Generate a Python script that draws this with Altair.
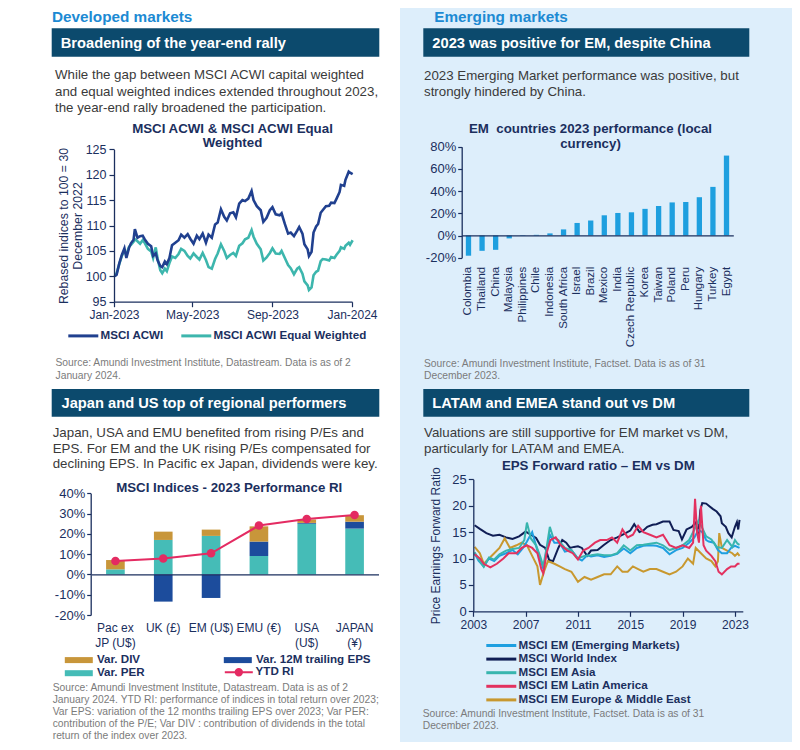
import altair as alt
import pandas as pd

# ------------------------------------------------------------------ data
# Chart 1 : MSCI ACWI vs MSCI ACWI Equal Weighted (rebased 100)
c1_dates = ["2023-01-02", "2023-01-05", "2023-01-09", "2023-01-13", "2023-01-17", "2023-01-20",
            "2023-01-24", "2023-01-27", "2023-01-31", "2023-02-02", "2023-02-06", "2023-02-10",
            "2023-02-14", "2023-02-17", "2023-02-22", "2023-02-27", "2023-03-02", "2023-03-06",
            "2023-03-09", "2023-03-13", "2023-03-16", "2023-03-20", "2023-03-23", "2023-03-27",
            "2023-03-31", "2023-04-05", "2023-04-10", "2023-04-14", "2023-04-19", "2023-04-24",
            "2023-04-28", "2023-05-03", "2023-05-08", "2023-05-12", "2023-05-17", "2023-05-22",
            "2023-05-26", "2023-05-31", "2023-06-05", "2023-06-09", "2023-06-14", "2023-06-19",
            "2023-06-23", "2023-06-28", "2023-07-03", "2023-07-07", "2023-07-12", "2023-07-17",
            "2023-07-21", "2023-07-26", "2023-07-31", "2023-08-03", "2023-08-08", "2023-08-14",
            "2023-08-18", "2023-08-23", "2023-08-28", "2023-09-01", "2023-09-06", "2023-09-12",
            "2023-09-15", "2023-09-20", "2023-09-25", "2023-09-29", "2023-10-04", "2023-10-09",
            "2023-10-12", "2023-10-17", "2023-10-20", "2023-10-25", "2023-10-27", "2023-10-31",
            "2023-11-03", "2023-11-07", "2023-11-10", "2023-11-14", "2023-11-17", "2023-11-22",
            "2023-11-27", "2023-11-30", "2023-12-05", "2023-12-08", "2023-12-13", "2023-12-15",
            "2023-12-20", "2023-12-22", "2023-12-27", "2023-12-29", "2024-01-02"]
c1_acwi = [100.0, 100.3, 102.5, 104.2, 105.5, 103.6, 105.6, 106.5, 107.2, 109.3, 107.6, 107.9,
           108.0, 107.3, 106.4, 105.9, 104.0, 104.5, 103.1, 102.0, 101.8, 102.9, 102.4, 103.6,
           106.1, 106.6, 107.1, 108.2, 107.6, 108.3, 107.4, 106.4, 108.0, 107.3, 108.4, 106.6,
           108.2, 107.6, 110.2, 110.6, 113.2, 111.7, 111.0, 112.4, 112.6, 111.6, 114.3, 115.0,
           114.8, 115.3, 116.8, 115.0, 113.8, 113.0, 110.7, 111.5, 113.0, 113.6, 112.2, 112.0,
           112.4, 110.3, 108.4, 108.6, 107.9, 109.0, 109.7, 108.4, 106.3, 105.3, 104.0, 104.8,
           108.6, 109.8, 110.3, 112.5, 113.0, 113.8, 113.9, 114.5, 114.4, 115.2, 116.6, 118.0,
           117.8, 119.0, 120.6, 120.4, 120.1]
c1_ew = [100.0, 100.6, 102.4, 104.0, 105.0, 104.3, 105.8, 106.2, 106.8, 107.3, 106.9, 106.4,
         107.1, 106.6, 105.4, 104.9, 103.6, 105.7, 103.4, 101.2, 100.6, 101.5, 101.0, 102.6,
         103.9, 103.6, 104.4, 105.4, 105.0, 104.0, 103.5, 104.5, 103.8, 103.3, 104.6, 103.2,
         101.8, 101.5, 103.4, 104.5, 106.3, 105.0, 103.6, 104.2, 104.6, 104.0, 106.0, 106.5,
         107.3, 107.6, 109.1, 107.8, 106.4, 105.3, 103.1, 103.7, 104.6, 105.5, 104.5, 104.4,
         105.0, 103.6, 102.2, 101.6, 100.4, 101.5, 101.8, 100.5, 99.0, 98.2, 97.3, 97.8,
         100.2, 100.9, 101.1, 103.0, 103.4, 103.3, 103.1, 103.8, 103.6, 104.2, 105.0, 105.7,
         105.4, 106.0, 106.6, 106.2, 107.1]
c1_series = ["MSCI ACWI", "MSCI ACWI Equal Weighted"]

# Chart 2 : EM countries 2023 performance (local currency), %
em_countries = ["Colombia", "Thailand", "China", "Malaysia", "Philippines", "Chile", "Indonesia",
                "South Africa", "Israel", "Brazil", "Mexico", "India", "Czech Republic", "Korea",
                "Taiwan", "Poland", "Peru", "Hungary", "Turkey", "Egypt"]
em_perf = [-18.2, -13.8, -12.9, -2.6, 0.4, 0.6, 1.9, 5.5, 11.3, 13.5, 18.2, 20.3, 20.9, 24.0,
           26.6, 29.8, 30.2, 34.5, 43.8, 72.0]

# Chart 3 : MSCI Indices - 2023 Performance RI, %
regions = ["Pac ex|JP (U$)", "UK (£)", "EM (U$)", "EMU (€)", "USA|(U$)", "JAPAN|(¥)"]
var_per = [2.5, 17.0, 19.0, 9.1, 25.0, 22.6]
var_eps = [0.0, -13.4, -11.6, 7.1, 0.4, 3.4]
var_div = [4.6, 4.1, 3.1, 7.5, 1.7, 3.2]
ytd_ri = [6.6, 7.9, 10.4, 24.1, 27.3, 29.3]
c3_components = ["Var. DIV", "Var. PER", "Var. 12M trailing EPS"]

# Chart 4 : Price earnings forward ratio
c4_series = ["MSCI EM (Emerging Markets)", "MSCI World Index", "MSCI EM Asia",
             "MSCI EM Latin America", "MSCI EM Europe & Middle East"]
world_x = [2003.1, 2003.5, 2004.0, 2004.5, 2005.0, 2005.5, 2006.0, 2006.5, 2007.0, 2007.4, 2007.8,
           2008.1, 2008.5, 2008.8, 2009.1, 2009.5, 2009.8, 2010.1, 2010.4, 2010.7, 2011.0, 2011.3,
           2011.7, 2012.0, 2012.5, 2013.0, 2013.5, 2014.0, 2014.5, 2015.0, 2015.3, 2015.7, 2016.0,
           2016.3, 2016.7, 2017.0, 2017.5, 2018.0, 2018.3, 2018.7, 2018.95, 2019.3, 2019.7, 2020.0,
           2020.2, 2020.35, 2020.5, 2020.8, 2021.0, 2021.3, 2021.6, 2021.9, 2022.0, 2022.3, 2022.5,
           2022.75, 2023.0, 2023.15, 2023.25, 2023.35]
world_y = [16.3, 15.6, 14.8, 14.3, 14.5, 14.0, 13.7, 14.2, 15.1, 14.5, 13.9, 12.6, 12.0, 9.7, 9.5,
           12.0, 13.5, 13.0, 12.0, 12.2, 12.3, 12.0, 10.5, 11.5, 11.6, 12.6, 13.5, 14.0, 14.6, 15.3,
           16.5, 15.0, 15.3, 16.0, 16.4, 16.5, 17.0, 17.0, 15.4, 15.2, 13.6, 15.5, 16.0, 16.8, 14.3,
           19.1, 20.5, 20.4, 20.0, 19.4, 18.9, 18.0, 16.7, 16.0, 14.8, 14.0, 16.0, 16.9, 15.5, 17.3]
em_x = [2003.1, 2003.4, 2003.8, 2004.2, 2004.6, 2005.0, 2005.5, 2006.0, 2006.4, 2006.8, 2007.1,
        2007.5, 2007.9, 2008.2, 2008.35, 2008.6, 2008.85, 2009.2, 2009.6, 2010.0, 2010.5, 2011.0,
        2011.3, 2011.7, 2012.0, 2012.5, 2013.0, 2013.5, 2014.0, 2014.5, 2015.0, 2015.5, 2016.0,
        2016.5, 2017.0, 2017.5, 2018.0, 2018.5, 2019.0, 2019.5, 2019.9, 2020.2, 2020.5, 2020.8,
        2021.0, 2021.4, 2021.7, 2022.0, 2022.4, 2022.7, 2023.0, 2023.35]
em_y = [11.0, 9.6, 8.5, 10.0, 9.5, 10.5, 11.0, 11.6, 10.8, 12.0, 13.2, 15.0, 11.5, 9.3, 8.0, 11.5,
        14.5, 13.0, 13.0, 11.3, 11.6, 10.0, 9.6, 10.6, 10.4, 10.6, 10.3, 10.5, 10.9, 11.9, 11.0,
        12.0, 12.4, 12.5, 12.4, 12.0, 10.8, 11.6, 12.0, 13.0, 14.0, 15.4, 15.0, 13.5, 13.2, 13.0,
        11.6, 11.0, 11.0, 12.0, 12.4, 12.0]
asia_x = [2003.1, 2003.5, 2003.8, 2004.2, 2004.6, 2005.0, 2005.5, 2006.0, 2006.5, 2006.9, 2007.1,
          2007.4, 2007.8, 2008.1, 2008.35, 2008.6, 2008.85, 2009.1, 2009.5, 2010.0, 2010.5, 2011.0,
          2011.5, 2012.0, 2012.5, 2013.0, 2013.5, 2014.0, 2014.5, 2015.0, 2015.5, 2016.0, 2016.5,
          2017.0, 2017.5, 2018.0, 2018.5, 2019.0, 2019.5, 2019.9, 2020.2, 2020.5, 2020.8, 2021.2,
          2021.6, 2022.0, 2022.4, 2022.8, 2023.0, 2023.2, 2023.35]
asia_y = [11.2, 9.5, 8.4, 10.2, 9.8, 10.8, 11.5, 11.8, 12.0, 13.5, 16.8, 13.8, 12.5, 10.5, 8.5,
          12.0, 16.0, 14.0, 13.5, 12.0, 11.6, 10.0, 10.5, 10.6, 10.8, 10.6, 10.6, 11.0, 12.5, 11.5,
          12.5, 12.6, 12.8, 13.0, 12.5, 11.6, 12.0, 12.5, 13.5, 15.5, 17.1, 15.8, 14.2, 13.6, 12.2,
          12.0, 13.5, 12.2, 13.5, 12.8, 12.6]
latam_x = [2003.1, 2003.5, 2003.8, 2004.3, 2004.8, 2005.3, 2005.7, 2006.3, 2006.7, 2007.1, 2007.5,
           2007.9, 2008.2, 2008.35, 2008.6, 2008.9, 2009.3, 2009.7, 2010.2, 2010.6, 2011.0, 2011.4,
           2011.8, 2012.3, 2012.7, 2013.2, 2013.6, 2014.0, 2014.4, 2014.8, 2015.2, 2015.6, 2016.0,
           2016.5, 2017.0, 2017.5, 2018.0, 2018.5, 2019.0, 2019.5, 2019.8, 2019.95, 2020.1, 2020.25,
           2020.4, 2020.6, 2020.8, 2021.2, 2021.5, 2021.75, 2022.0, 2022.4, 2022.7, 2023.0, 2023.2,
           2023.35]
latam_y = [10.8, 10.0, 9.0, 8.3, 9.0, 10.0, 11.0, 11.0, 12.0, 12.5, 12.0, 11.0, 8.0, 7.2, 11.0,
           13.5, 14.0, 12.5, 11.5, 11.0, 9.8, 11.5, 12.0, 13.0, 13.5, 13.5, 14.0, 13.0, 15.5, 14.0,
           14.5, 16.2, 15.0, 14.5, 14.0, 14.5, 12.5, 12.0, 12.5, 12.0, 13.0, 21.3, 15.0, 13.0, 20.0,
           12.5, 11.5, 10.5, 9.5, 7.5, 7.0, 8.0, 8.5, 8.5, 9.0, 9.0]
emea_x = [2003.1, 2003.5, 2003.8, 2004.2, 2004.6, 2005.0, 2005.4, 2005.8, 2006.3, 2006.7, 2007.1,
          2007.5, 2007.9, 2008.1, 2008.4, 2008.7, 2009.2, 2009.6, 2010.0, 2010.5, 2011.0, 2011.5,
          2012.0, 2012.5, 2013.0, 2013.5, 2014.0, 2014.4, 2014.8, 2015.2, 2015.6, 2016.0, 2016.5,
          2017.0, 2017.5, 2018.0, 2018.5, 2019.0, 2019.4, 2019.8, 2020.0, 2020.4, 2020.8, 2021.2,
          2021.5, 2021.7, 2021.8, 2022.0, 2022.4, 2022.8, 2023.0, 2023.2, 2023.35]
emea_y = [12.2, 11.0, 9.0, 10.0, 11.0, 12.0, 13.8, 12.0, 12.5, 13.0, 12.5, 10.5, 8.5, 5.0, 7.5,
          9.5, 9.0, 8.5, 8.0, 7.5, 5.6, 6.5, 6.0, 6.5, 7.0, 7.0, 8.5, 7.5, 7.5, 8.5, 8.0, 7.5, 8.0,
          8.0, 7.5, 7.0, 7.5, 8.5, 10.0, 9.0, 12.0, 11.0, 10.0, 9.5, 8.5, 9.5, 14.8, 12.0, 11.5,
          11.0, 10.5, 11.0, 10.5]
c4_ticks = [2003, 2007, 2011, 2015, 2019, 2023]

# ------------------------------------------------------------------ style / layout
FONT = "Liberation Sans, Arial, Helvetica, sans-serif"
NAVY = "#1b2f5e"
HDR = "#0c4a6d"
SEC = "#1c8ad3"
BODY = "#3a3a3a"
SRC = "#7b7b7b"
RIGHT_BG = "#ddeefb"
W, H = 784, 734
OX, OY = 8, 8

# legend swatch shapes (unit r = sqrt(symbolSize)/2 = 4 px)
LINE_SWATCH = "M-1,0L6.5,0"                       # 30 px line
BAR_SWATCH = "M-1,-0.75L6,-0.75L6,0.75L-1,0.75Z"  # 28 x 6 px box
DOT_SWATCH = "M-1,0L6,0M3.3,0A0.8,0.8,0,1,1,1.7,0A0.8,0.8,0,1,1,3.3,0Z"


def px(x):
    return x - OX


def py(y):
    return y - OY


ONE = pd.DataFrame({"k": [0]})


def tb(lines, x, yc, fs, color, weight="normal", align="left", lh=None):
    if isinstance(lines, str):
        lines = [lines]
    lh = lh or round(fs * 1.2, 2)
    return alt.Chart(ONE).mark_text(
        text=lines, font=FONT, fontSize=fs, fontWeight=weight, color=color,
        align=align, baseline="top", lineHeight=lh
    ).encode(x=alt.value(px(x)), y=alt.value(py(yc) - 0.46 * fs))


def box(x1, y1, x2, y2, color):
    return alt.Chart(ONE).mark_rect(color=color).encode(
        x=alt.value(px(x1)), x2=alt.value(px(x2)), y=alt.value(py(y1)), y2=alt.value(py(y2)))


def ax(**kw):
    base = dict(zindex=1, grid=False, domainColor=NAVY, tickColor=NAVY, labelColor=NAVY,
                labelFont=FONT, labelFontSize=12, titleColor=NAVY, titleFont=FONT,
                titleFontWeight="normal", domainWidth=1.3, tickWidth=1.2, tickSize=5,
                labelPadding=2)
    base.update(kw)
    return alt.Axis(**base)


def leg(**kw):
    base = dict(orient="none", title=None, labelFont=FONT, labelFontSize=11.6,
                labelFontWeight="bold", labelColor=NAVY, labelLimit=0, padding=0,
                symbolSize=64, rowPadding=0.5)
    base.update(kw)
    return alt.Legend(**base)


layers = []
# backgrounds, section titles, headers
layers.append(box(400, 0, 820, 770, RIGHT_BG))
layers.append(tb("Developed markets", 52, 17, 15.3, SEC, "bold"))
layers.append(tb("Emerging markets", 434.3, 17, 15.3, SEC, "bold"))
for (x1, y1, x2, y2, tx, txt) in [
    (51.7, 28.3, 379.3, 56.7, 60.7, "Broadening of the year-end rally"),
    (423.3, 28.3, 749.3, 56.7, 432.3, "2023 was positive for EM, despite China"),
    (51.7, 389.0, 379.3, 416.7, 61.5, "Japan and US top of regional performers"),
    (423.3, 389.0, 749.3, 416.7, 432.3, "LATAM and EMEA stand out vs DM"),
]:
    layers.append(box(x1, y1, x2, y2, HDR))
    layers.append(tb(txt, tx, (y1 + y2) / 2, 14.7, "white", "bold"))

# paragraphs
layers.append(tb(["While the gap between MSCI ACWI capital weighted",
                  "and equal weighted indices extended throughout 2023,",
                  "the year-end rally broadened the participation."], 55, 74.5, 13.3, BODY, lh=16.2))
layers.append(tb(["2023 Emerging Market performance was positive, but",
                  "strongly hindered by China."], 424, 75, 13.3, BODY, lh=15.8))
layers.append(tb(["Japan, USA and EMU benefited from rising P/Es and",
                  "EPS. For EM and the UK rising P/Es compensated for",
                  "declining EPS. In Pacific ex Japan, dividends were key."], 52.7, 432.3, 13.3, BODY, lh=15.6))
layers.append(tb(["Valuations are still supportive for EM market vs DM,",
                  "particularly for LATAM and EMEA."], 424, 431.7, 13.3, BODY, lh=16))

# chart titles
layers.append(tb(["MSCI ACWI & MSCI ACWI Equal", "Weighted"], 232.5, 127.7, 13.3, NAVY, "bold", "center", 14.8))
layers.append(tb(["EM\u00a0 countries 2023 performance (local", "currency)"], 590.5, 127.7, 13.3, NAVY, "bold", "center", 15.6))
layers.append(tb("MSCI Indices - 2023 Performance RI", 229.2, 487, 13.3, NAVY, "bold", "center"))
layers.append(tb("EPS Forward ratio \u2013 EM vs DM", 598.3, 465, 13.3, NAVY, "bold", "center"))

# sources
layers.append(tb(["Source: Amundi Investment Institute, Datastream. Data is as of 2",
                  "January 2024."], 55.5, 362.3, 10.3, SRC, lh=13))
layers.append(tb(["Source: Amundi Investment Institute, Factset. Data is as of 31",
                  "December 2023."], 424, 363.3, 10.3, SRC, lh=12.5))
layers.append(tb(["Source: Amundi Investment Institute, Datastream. Data is as of 2",
                  "January 2024. YTD RI: performance of indices in total return over 2023;",
                  "Var EPS: variation of the 12 months trailing EPS over 2023; Var PER:",
                  "contribution of the P/E; Var DIV : contribution of dividends in the total",
                  "return of the index over 2023."], 52.7, 688, 10.3, SRC, lh=11.9))
layers.append(tb(["Source: Amundi Investment Institute, Factset. Data is as of 31",
                  "December 2023."], 422.7, 713.3, 10.3, SRC, lh=12.4))

# ------------------------------------------------------------------ chart 1
df1 = pd.concat([
    pd.DataFrame({"date": c1_dates, "value": c1_ew, "series": c1_series[1]}),
    pd.DataFrame({"date": c1_dates, "value": c1_acwi, "series": c1_series[0]}),
])
dt = lambda y, m, d: alt.DateTime(year=y, month=m, date=d, utc=True)
c1 = alt.Chart(df1).mark_line(strokeWidth=2.6).encode(
    x=alt.X("date:T",
            scale=alt.Scale(type="utc", domain=[dt(2023, 1, 1), dt(2024, 1, 1)],
                            range=[px(114), px(352)]),
            axis=ax(orient="bottom", offset=py(301.7) - H, title=None, labelFlush=False,
                    values=[dt(2023, 1, 1), dt(2023, 5, 1), dt(2023, 9, 1), dt(2024, 1, 1)],
                    labelExpr="utcFormat(datum.value, '%b-%Y')", labelFontSize=12,
                    labelPadding=3)),
    y=alt.Y("value:Q",
            scale=alt.Scale(domain=[95, 125], range=[py(301.7), py(149.3)], nice=False, zero=False),
            axis=ax(orient="left", offset=-px(114), values=[95, 100, 105, 110, 115, 120, 125],
                    title=["Rebased indices to 100 = 30", "December 2022"], titleFontSize=12.3,
                    titleLineHeight=13.5, titlePadding=1, labelFontSize=12.5, labelPadding=3)),
    color=alt.Color("series:N", scale=alt.Scale(domain=c1_series, range=["#20408f", "#3db6ad"]),
                    legend=leg(direction="horizontal", legendX=px(66.5), legendY=py(336) - 6,
                               symbolType=LINE_SWATCH, symbolStrokeWidth=3,
                               labelOffset=22.5, columnPadding=10)),
)
layers.append(c1)

# ------------------------------------------------------------------ chart 2
df2 = pd.DataFrame({"country": em_countries, "perf": em_perf})
c2 = alt.Chart(df2).mark_bar(color="#1e9fdf").encode(
    x=alt.X("country:N", sort=em_countries,
            scale=alt.Scale(domain=em_countries, range=[px(461.7), px(733.3)],
                            paddingInner=0.61, paddingOuter=0.305),
            axis=ax(orient="bottom", offset=py(235.3) - H, title=None, ticks=False,
                    labelAngle=-90, labelFontSize=11.5, labelPadding=31)),
    y=alt.Y("perf:Q",
            scale=alt.Scale(domain=[-20, 80], range=[py(257.7), py(146.7)], nice=False),
            axis=ax(orient="left", offset=-px(461.7), values=[-20, 0, 20, 40, 60, 80],
                    labelExpr="datum.value + '%'", title=None, tickSize=4, labelFontSize=13)),
)
layers.append(c2)

# ------------------------------------------------------------------ chart 3
rows = []
for i, r in enumerate(regions):
    rows.append({"region": r, "comp": "Var. PER", "val": var_per[i], "ord": 1})
    rows.append({"region": r, "comp": "Var. 12M trailing EPS", "val": var_eps[i], "ord": 2})
    rows.append({"region": r, "comp": "Var. DIV", "val": var_div[i], "ord": 3})
df3 = pd.DataFrame(rows)
x3_scale = alt.Scale(domain=regions, range=[px(91.5), px(378.5)], paddingInner=0.61, paddingOuter=0.305)
y3_scale = alt.Scale(domain=[-20, 40], range=[py(615), py(493.3)], nice=False)
c3 = alt.Chart(df3).mark_bar().encode(
    x=alt.X("region:N", sort=regions, scale=x3_scale,
            axis=ax(orient="bottom", offset=py(574.4) - H, title=None, ticks=False,
                    labelAngle=0, labelBaseline="top", labelPadding=48.5, labelLineHeight=15,
                    labelExpr="split(datum.label, '|')", labelFontSize=12)),
    y=alt.Y("val:Q", stack="zero", scale=y3_scale,
            axis=ax(orient="left", offset=-px(90.7), values=[-20, -10, 0, 10, 20, 30, 40],
                    labelExpr="datum.value + '%'", title=None, tickSize=4, labelFontSize=13)),
    color=alt.Color("comp:N", scale=alt.Scale(domain=c3_components,
                                              range=["#c8963a", "#45bcb7", "#1c4c9c"]),
                    legend=leg(columns=2, direction="vertical", legendX=px(63), legendY=py(660) - 6,
                               symbolType=BAR_SWATCH, symbolStrokeWidth=0, labelOffset=22.3,
                               columnPadding=77, rowPadding=0.4)),
    order=alt.Order("ord:Q", sort="ascending"),
)
layers.append(c3)

df3b = pd.DataFrame({"region": regions, "ri": ytd_ri, "s": "YTD RI"})
c3_line = alt.Chart(df3b).mark_line(strokeWidth=2, color="#e42b62").encode(
    x=alt.X("region:N", sort=regions, scale=x3_scale, axis=None),
    y=alt.Y("ri:Q", scale=y3_scale, axis=None),
)
c3_pts = alt.Chart(df3b).mark_circle(size=72, opacity=1).encode(
    x=alt.X("region:N", sort=regions, scale=x3_scale, axis=None),
    y=alt.Y("ri:Q", scale=y3_scale, axis=None),
    color=alt.Color("s:N", scale=alt.Scale(domain=["YTD RI"], range=["#e42b62"]),
                    legend=leg(legendX=px(223), legendY=py(672.4) - 6,
                               symbolType=DOT_SWATCH, symbolStrokeWidth=2,
                               symbolStrokeColor="#e42b62", symbolFillColor="#e42b62",
                               labelOffset=21)),
)
layers.append(c3_line)
layers.append(c3_pts)

# ------------------------------------------------------------------ chart 4
df4 = pd.concat([
    pd.DataFrame({"yr": world_x, "pe": world_y, "series": c4_series[1]}),
    pd.DataFrame({"yr": emea_x, "pe": emea_y, "series": c4_series[4]}),
    pd.DataFrame({"yr": em_x, "pe": em_y, "series": c4_series[0]}),
    pd.DataFrame({"yr": asia_x, "pe": asia_y, "series": c4_series[2]}),
    pd.DataFrame({"yr": latam_x, "pe": latam_y, "series": c4_series[3]}),
])
c4 = alt.Chart(df4).mark_line(strokeWidth=2).encode(
    x=alt.X("yr:Q",
            scale=alt.Scale(domain=[2003, 2023.6], range=[px(473.3), px(742.8)], nice=False, zero=False),
            axis=ax(orient="bottom", offset=py(611.3) - H, values=c4_ticks, format="d", title=None,
                    labelFlush=False, labelFontSize=12, labelPadding=3.5)),
    y=alt.Y("pe:Q",
            scale=alt.Scale(domain=[0, 25], range=[py(611.3), py(479.3)], nice=False),
            axis=ax(orient="left", offset=-px(473.3), values=[0, 5, 10, 15, 20, 25],
                    title="Price Earnings Forward Ratio", titleFontSize=12, titlePadding=9,
                    labelFontSize=13)),
    color=alt.Color("series:N",
                    scale=alt.Scale(domain=c4_series,
                                    range=["#1e9fe0", "#101e55", "#38b5ae", "#e3315f", "#c8982f"]),
                    legend=leg(direction="vertical", legendX=px(484.5), legendY=py(645.7) - 6,
                               symbolType=LINE_SWATCH, symbolStrokeWidth=3, labelOffset=22.5,
                               rowPadding=0.6)),
)
layers.append(c4)

chart = alt.layer(*layers).resolve_scale(
    x="independent", y="independent", color="independent"
).properties(
    width=W, height=H, padding=0, background="white",
    autosize=alt.AutoSizeParams(type="none"),
).configure_view(stroke=None)

chart.save("out.html", embed_options={"renderer": "svg", "actions": False})
